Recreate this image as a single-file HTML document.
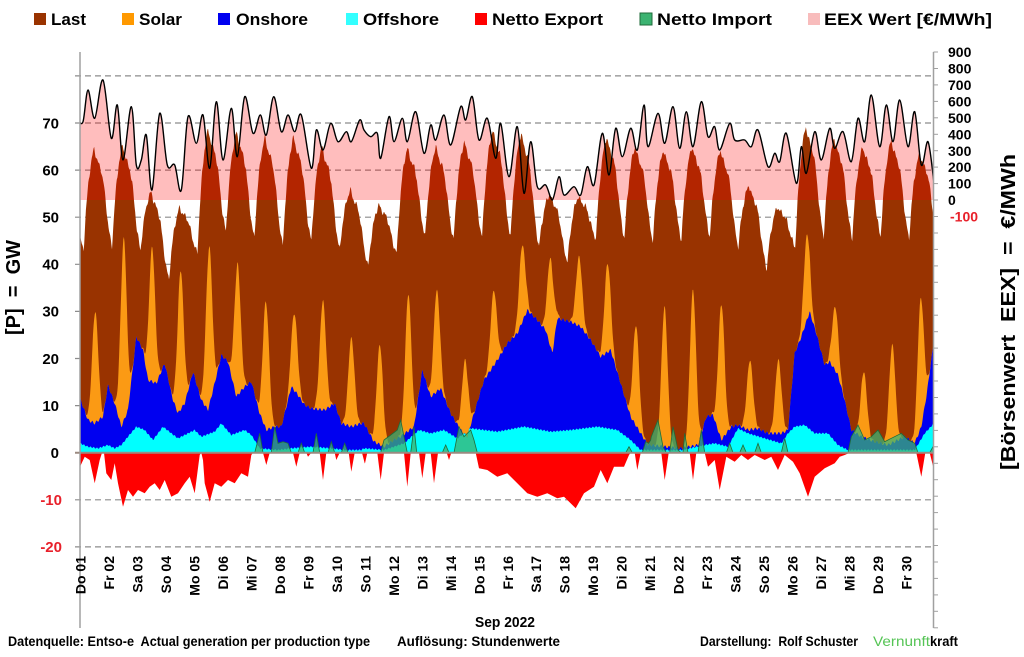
<!DOCTYPE html>
<html>
<head>
<meta charset="utf-8">
<style>
html,body{margin:0;padding:0;background:#fff;overflow:hidden;}
svg{display:block;font-family:"Liberation Sans",Arial,sans-serif;font-weight:bold;}
</style>
</head>
<body>
<svg id="c" width="1024" height="657" viewBox="0 0 1024 657" xmlns="http://www.w3.org/2000/svg">
<defs><clipPath id="pc"><rect x="80" y="40" width="854" height="520"/></clipPath></defs>
<rect width="1024" height="657" fill="#fff"/>

<!-- legend -->
<g font-size="17" fill="#000">
<rect x="34" y="13" width="12" height="12" fill="#993300"/>
<text x="51" y="25" textLength="35" lengthAdjust="spacingAndGlyphs">Last</text>
<rect x="122" y="13" width="12" height="12" fill="#ff9900"/>
<text x="139" y="25" textLength="43" lengthAdjust="spacingAndGlyphs">Solar</text>
<rect x="218" y="13" width="12" height="12" fill="#0000f0"/>
<text x="236" y="25" textLength="72" lengthAdjust="spacingAndGlyphs">Onshore</text>
<rect x="346" y="13" width="12" height="12" fill="#33ffff"/>
<text x="363" y="25" textLength="76" lengthAdjust="spacingAndGlyphs">Offshore</text>
<rect x="475" y="13" width="12" height="12" fill="#ff0000"/>
<text x="492" y="25" textLength="111" lengthAdjust="spacingAndGlyphs">Netto Export</text>
<rect x="640" y="13" width="12" height="12" fill="#3cb371" stroke="#1f6b3a" stroke-width="1"/>
<text x="657" y="25" textLength="115" lengthAdjust="spacingAndGlyphs">Netto Import</text>
<rect x="808" y="13" width="12" height="12" fill="#f8bcbc"/>
<text x="824" y="25" textLength="168" lengthAdjust="spacingAndGlyphs">EEX Wert [€/MWh]</text>
</g>

<!-- gridlines -->
<g stroke="#8c8c8c" stroke-width="1.2" stroke-dasharray="6,4">
<line x1="75" x2="934" y1="75.9" y2="75.9"/>
<line x1="75" x2="934" y1="123" y2="123"/>
<line x1="75" x2="934" y1="170.1" y2="170.1"/>
<line x1="75" x2="934" y1="217.2" y2="217.2"/>
<line x1="75" x2="934" y1="264.3" y2="264.3"/>
<line x1="75" x2="934" y1="311.4" y2="311.4"/>
<line x1="75" x2="934" y1="358.5" y2="358.5"/>
<line x1="75" x2="934" y1="405.6" y2="405.6"/>
<line x1="75" x2="934" y1="499.8" y2="499.8"/>
<line x1="75" x2="934" y1="546.9" y2="546.9"/>
</g>

<g clip-path="url(#pc)">
<path id="load" fill="#993300" d=""/>
<path id="sol" fill="#fb9a14" d=""/>
<path id="wind" fill="#0000f0" d=""/>
<path id="off" fill="#00ffff" d=""/>
<path id="exp" fill="#ff0000" d=""/>
<path id="imp" fill="#3cb371" fill-opacity="0.75" stroke="#1f6b3a" stroke-width="0.8" d=""/>
<path id="pfill" fill="#ff0000" fill-opacity="0.26" d=""/>
<path id="pline" fill="none" stroke="#000" stroke-width="1.4" d=""/>
</g>

<!-- zero line & axes -->
<line x1="75" x2="934" y1="452.7" y2="452.7" stroke="#9b8a80" stroke-width="2"/>
<line x1="80" x2="80" y1="52" y2="628" stroke="#a0a0a0" stroke-width="1.5"/>
<line x1="933.5" x2="933.5" y1="52" y2="628" stroke="#a0a0a0" stroke-width="1.5"/>
<g id="rticks" stroke="#a0a0a0" stroke-width="1"></g>

<!-- left tick labels -->
<g font-size="15" text-anchor="end" fill="#000">
<text x="59" y="128.3">70</text>
<text x="59" y="175.4">60</text>
<text x="59" y="222.5">50</text>
<text x="59" y="269.6">40</text>
<text x="59" y="316.7">30</text>
<text x="59" y="363.8">20</text>
<text x="59" y="410.9">10</text>
<text x="59" y="458">0</text>
<text x="62" y="505.1" fill="#e8202a">-10</text>
<text x="62" y="552.2" fill="#e8202a">-20</text>
</g>

<!-- right tick labels -->
<g font-size="14" fill="#000">
<text x="948" y="57">900</text>
<text x="948" y="73.5">800</text>
<text x="948" y="90">700</text>
<text x="948" y="106.4">600</text>
<text x="948" y="122.9">500</text>
<text x="948" y="139.3">400</text>
<text x="948" y="155.8">300</text>
<text x="948" y="172.2">200</text>
<text x="948" y="188.7">100</text>
<text x="948" y="205.2">0</text>
<text x="950" y="221.6" fill="#e8202a">-100</text>
</g>

<!-- axis titles -->
<text font-size="20" text-anchor="middle" transform="translate(20,287.5) rotate(-90)" textLength="95" lengthAdjust="spacingAndGlyphs" xml:space="preserve">[P]  =  GW</text>
<text font-size="20" text-anchor="middle" transform="translate(1015,312) rotate(-90)" textLength="316" lengthAdjust="spacingAndGlyphs" xml:space="preserve">[Börsenwert  EEX]  =  €/MWh</text>

<!-- x labels -->
<g font-size="14" text-anchor="end" fill="#000">
<text transform="translate(85.7,556) rotate(-90)">Do 01</text>
<text transform="translate(114.2,556) rotate(-90)">Fr 02</text>
<text transform="translate(142.6,556) rotate(-90)">Sa 03</text>
<text transform="translate(171.1,556) rotate(-90)">So 04</text>
<text transform="translate(199.6,556) rotate(-90)">Mo 05</text>
<text transform="translate(228.1,556) rotate(-90)">Di 06</text>
<text transform="translate(256.5,556) rotate(-90)">Mi 07</text>
<text transform="translate(285.0,556) rotate(-90)">Do 08</text>
<text transform="translate(313.5,556) rotate(-90)">Fr 09</text>
<text transform="translate(341.9,556) rotate(-90)">Sa 10</text>
<text transform="translate(370.4,556) rotate(-90)">So 11</text>
<text transform="translate(398.9,556) rotate(-90)">Mo 12</text>
<text transform="translate(427.3,556) rotate(-90)">Di 13</text>
<text transform="translate(455.8,556) rotate(-90)">Mi 14</text>
<text transform="translate(484.3,556) rotate(-90)">Do 15</text>
<text transform="translate(512.8,556) rotate(-90)">Fr 16</text>
<text transform="translate(541.2,556) rotate(-90)">Sa 17</text>
<text transform="translate(569.7,556) rotate(-90)">So 18</text>
<text transform="translate(598.2,556) rotate(-90)">Mo 19</text>
<text transform="translate(626.6,556) rotate(-90)">Di 20</text>
<text transform="translate(655.1,556) rotate(-90)">Mi 21</text>
<text transform="translate(683.6,556) rotate(-90)">Do 22</text>
<text transform="translate(712.0,556) rotate(-90)">Fr 23</text>
<text transform="translate(740.5,556) rotate(-90)">Sa 24</text>
<text transform="translate(769.0,556) rotate(-90)">So 25</text>
<text transform="translate(797.5,556) rotate(-90)">Mo 26</text>
<text transform="translate(825.9,556) rotate(-90)">Di 27</text>
<text transform="translate(854.4,556) rotate(-90)">Mi 28</text>
<text transform="translate(882.9,556) rotate(-90)">Do 29</text>
<text transform="translate(911.3,556) rotate(-90)">Fr 30</text>
</g>

<text x="475" y="627" font-size="15" textLength="60" lengthAdjust="spacingAndGlyphs">Sep 2022</text>

<!-- footer -->
<g font-size="14" fill="#000">
<text x="8" y="646" textLength="362" lengthAdjust="spacingAndGlyphs" xml:space="preserve">Datenquelle: Entso-e  Actual generation per production type</text>
<text x="397" y="646" textLength="163" lengthAdjust="spacingAndGlyphs">Auflösung: Stundenwerte</text>
<text x="700" y="646" textLength="158" lengthAdjust="spacingAndGlyphs" xml:space="preserve">Darstellung:  Rolf Schuster</text>
<text x="873" y="646" textLength="57" lengthAdjust="spacingAndGlyphs" fill="#55c455" font-weight="normal">Vernunft</text>
<text x="930" y="646" textLength="28" lengthAdjust="spacingAndGlyphs">kraft</text>
</g>
</svg>

<script>
(function(){
var Z=452.7,K=4.71;
function gx(t){return 80+t*854/720;}
function gy(v){return Z-v*K;}
function conv(off,arr){return arr.map(function(p){return [off+p[0]/3,(Z-(50+p[1]/3))/K];});}
function convImg(off,arr){return arr.map(function(p){return [off+p[0]/3,50+p[1]/3];});}
function merge(){var a=[];for(var i=0;i<arguments.length;i++)a=a.concat(arguments[i]);a.sort(function(p,q){return p[0]-q[0];});return a;}
function lin(a,x){if(x<=a[0][0])return a[0][1];for(var i=1;i<a.length;i++){if(x<=a[i][0]){var p=a[i-1],q=a[i];var d=q[0]-p[0];var f=d?(x-p[0])/d:0;return p[1]+f*(q[1]-p[1]);}}return a[a.length-1][1];}
function r(v){return Math.round(v*10)/10;}

var w10=[[6,1045],[30,1110],[50,1120],[75,1100],[90,1005],[110,1060],[130,1130],[150,1080],[175,860],[195,900],[210,990],[235,1000],[260,940],[285,1050],[300,1090],[320,1060],[345,965],[370,1050],[390,1080],[410,1000],[430,915],[450,935],[475,1040],[500,1010],[520,995],[545,1090],[565,1140],[590,1130],[610,1130],[640,1010],[660,1035],[680,1065],[700,1075],[740,1080],[770,1060],[790,1120],[820,1130],[850,1120]];
var w11=[[0,1120],[30,1175],[60,1190],[90,1170],[110,1160],[150,1130],[175,960],[200,1040],[230,1015],[260,1090],[290,1140],[310,1160],[330,1090],[360,990],[380,960],[400,930],[430,880],[460,850],[490,780],[520,810],[545,840],[565,910],[580,805],[620,815],[650,830],[680,870],[710,920],[740,900],[770,1000],[800,1100],[830,1150],[860,1185]];
var w12=[[0,1185],[50,1190],[100,1195],[150,1185],[175,1100],[195,1095],[220,1170],[250,1130],[270,1125],[300,1140],[330,1135],[360,1150],[400,1150],[420,1140],[440,910],[460,860],[485,785],[505,850],[530,945],[545,935],[570,975],[590,1050],[610,1140],[640,1160],[680,1175],[720,1185],[770,1160],[800,1180],[820,1130],[835,1040],[858,870]];
var o10=[[6,1180],[30,1190],[60,1195],[90,1185],[110,1195],[130,1185],[150,1160],[175,1130],[200,1140],[225,1170],[255,1130],[280,1150],[300,1165],[330,1150],[350,1140],[370,1160],[410,1145],[430,1120],[460,1155],[500,1140],[520,1155],[545,1195],[600,1200],[640,1195],[700,1190],[760,1195],[800,1200],[850,1200]];
var o11=[[0,1195],[60,1200],[120,1180],[165,1140],[200,1150],[240,1140],[280,1165],[320,1135],[400,1145],[480,1130],[560,1145],[620,1140],[700,1130],[760,1140],[800,1170],[830,1200],[860,1200]];
var o12=[[0,1200],[100,1200],[170,1185],[200,1180],[240,1190],[270,1135],[300,1150],[350,1165],[400,1180],[420,1150],[440,1130],[470,1125],[500,1150],[540,1150],[570,1185],[600,1200],[800,1200],[830,1150],[858,1120]];
var W=merge(conv(78,w10),conv(364,w11),conv(648,w12));
var O=merge(conv(78,o10),conv(364,o11),conv(648,o12));

var OT=[29.9,45.5,43.7,38.8,43.7,40.2,32,29.6,32.4,24.3,22.9,33.8,34.5,19.7,34.5,44.1,41.3,41.6,40.2,27.1,31,34.5,31.4,19.7,19.7,46.2,31,17.2,22.9,32.8];
var T=[43,43.7,43,36.7,42.4,47,45.5,44,45,43,39.5,42.4,45.9,45.2,45.9,45.9,43.7,40.6,45.5,45.5,45,45.2,45.9,43.7,39.1,43.7,45.9,45.5,45.9,45.5];
var P=[64.6,65.3,55.4,52,68.5,68,67,67,65,55.8,52.6,64.7,65,66,68.5,67.8,55,54.4,67,65,64.3,65,64.3,56.8,52.2,69.2,66.7,65,66.3,63.6];

var shape=[[3,0],[5,.38],[7,.65],[9,.84],[11,.96],[12,1]];
var eve=[[14,.9],[16,.83],[18,.77],[20,.64],[22,.42],[24,.2],[26,.05]];
var LP=[[0,45.5]];
for(var d=0;d<30;d++){
  var i;
  for(i=0;i<shape.length;i++)LP.push([24*d+shape[i][0],T[d]+shape[i][1]*(P[d]-T[d])]);
  var Tn=d<29?T[d+1]:46;
  for(i=0;i<eve.length;i++)if(24*d+eve[i][0]<=720)LP.push([24*d+eve[i][0],Tn+eve[i][1]*(P[d]-Tn)]);
}
var S=[];
for(d=0;d<30;d++){S.push(Math.max(2,OT[d]-lin(W,gx(24*d+12.8))));}

var xs=[],yl=[],ys=[],yw=[],yo=[];
for(var t=0;t<=720;t+=0.5){
  var x=gx(t);
  var dd=Math.min(29,Math.floor(t/24)),h=t-24*dd;
  var ld=lin(LP,t)+0.45*Math.sin(t*1.3)+0.3*Math.sin(t*2.7+1);
  var w=Math.max(0,lin(W,x)+0.3*Math.sin(t*1.9+0.5));
  var o=Math.max(0,Math.min(w,lin(O,x)+0.15*Math.sin(t*2.3)));
  var s=(h>4&&h<22)?S[dd]*Math.exp(-0.5*Math.pow((h-12.8)/2.6,2)):0;
  xs.push(r(x));yl.push(r(gy(ld)));ys.push(r(gy(w+s)));yw.push(r(gy(w)));yo.push(r(gy(o)));
}
function area(xa,ya){var s='M'+xa[0]+','+Z;for(var i=0;i<xa.length;i++)s+='L'+xa[i]+','+ya[i];s+='L'+xa[xa.length-1]+','+Z+'Z';return s;}
document.getElementById('load').setAttribute('d',area(xs,yl));
document.getElementById('sol').setAttribute('d',area(xs,ys));
document.getElementById('wind').setAttribute('d',area(xs,yw));
document.getElementById('off').setAttribute('d',area(xs,yo));

function poly(pts){var s='M'+r(pts[0][0])+','+Z;for(var i=0;i<pts.length;i++)s+='L'+r(pts[i][0])+','+r(pts[i][1]);s+='L'+r(pts[pts.length-1][0])+','+Z+'Z';return s;}

var e10=[[0,1240],[6,1250],[20,1220],[35,1230],[50,1300],[65,1230],[72,1208],[78,1208],[85,1270],[100,1290],[110,1240],[120,1300],[135,1370],[150,1320],[165,1340],[180,1320],[200,1330],[215,1310],[230,1300],[245,1320],[260,1290],[280,1340],[300,1330],[320,1300],[335,1280],[350,1330],[365,1215],[370,1208],[375,1230],[380,1300],[395,1355],[410,1300],[430,1310],[450,1290],[470,1300],[490,1270],[510,1280],[520,1215],[525,1208],[555,1208],[565,1245],[575,1208],[645,1208],[655,1250],[665,1208],[685,1208],[690,1220],[700,1208],[725,1208],[735,1290],[745,1208],[770,1208],[775,1230],[785,1208],[812,1208],[820,1265],[830,1208],[852,1208],[860,1240]];
var e11=[[3,1240],[10,1208],[40,1208],[50,1290],[60,1208],[120,1208],[130,1310],[140,1208],[165,1208],[175,1285],[185,1208],[200,1208],[210,1300],[222,1208],[248,1208],[255,1230],[262,1208],[335,1208],[345,1255],[370,1260],[400,1280],[430,1270],[460,1300],[490,1330],[520,1340],[550,1330],[580,1345],[600,1340],[635,1375],[660,1330],[690,1310],[710,1260],[730,1300],[750,1250],[780,1250],[795,1215],[800,1208],[812,1208],[820,1260],[830,1208]];
var e12=[[2,1208],[40,1208],[50,1290],[62,1208],[125,1208],[135,1290],[145,1208],[170,1208],[180,1250],[200,1230],[215,1320],[235,1220],[260,1235],[280,1215],[300,1230],[320,1215],[350,1230],[370,1220],[390,1260],[410,1215],[435,1235],[455,1270],[480,1340],[500,1280],[530,1255],[560,1240],[575,1220],[590,1215],[605,1208],[805,1208],[820,1280],[832,1208],[845,1208],[858,1260],[870,1260]];
var E=merge(convImg(78,e10),convImg(364,e11),convImg(648,e12));
document.getElementById('exp').setAttribute('d',poly(E));

var i10=[[530,1208],[545,1150],[555,1208],[580,1208],[590,1130],[600,1180],[615,1175],[630,1180],[640,1208],[660,1208],[670,1180],[680,1208],[705,1208],[715,1150],[725,1208],[750,1208],[760,1175],[770,1208],[790,1208],[800,1180],[810,1208]];
var i11=[[50,1208],[60,1170],[80,1155],[100,1140],[110,1110],[120,1160],[130,1208],[140,1208],[150,1130],[158,1208],[235,1208],[245,1185],[255,1208],[270,1208],[285,1130],[300,1160],[320,1140],[330,1170],[340,1208],[785,1208],[795,1190],[805,1208],[835,1208],[845,1175],[860,1170]];
var i12=[[2,1180],[10,1160],[30,1110],[45,1190],[55,1208],[65,1208],[75,1130],[90,1200],[100,1208],[105,1208],[110,1150],[120,1208],[150,1208],[160,1140],[170,1208],[235,1208],[245,1180],[255,1208],[275,1208],[285,1185],[295,1208],[320,1208],[330,1180],[340,1208],[400,1208],[410,1165],[420,1208],[600,1208],[610,1160],[630,1125],[650,1170],[670,1160],[690,1140],[710,1175],[730,1165],[760,1150],[780,1170],[800,1180],[810,1208],[845,1208],[855,1190],[870,1190]];
var I=merge(convImg(78,i10),convImg(364,i11),convImg(648,i12));
document.getElementById('imp').setAttribute('d',poly(I));

var p10=[[0,210],[15,215],[30,120],[50,205],[75,90],[100,265],[118,165],[135,330],[160,170],[175,345],[190,330],[205,255],[222,420],[245,190],[268,345],[290,345],[310,420],[330,200],[355,280],[375,195],[395,355],[415,155],[435,330],[460,175],[478,320],[500,140],[525,250],[547,195],[565,255],[587,140],[610,245],[630,195],[650,245],[670,195],[700,355],[715,240],[735,300],[758,220],[780,275],[805,245],[820,275],[845,210]];
var p11=[[0,240],[20,260],[40,250],[50,325],[75,200],[90,275],[115,205],[130,275],[155,185],[180,310],[200,225],[215,270],[240,195],[260,285],[290,170],[305,210],[325,140],[345,270],[370,205],[395,325],[410,220],[435,380],[460,230],[480,430],[500,275],[520,410],[545,405],[565,450],[585,380],[600,435],[630,410],[650,435],[670,350],[690,405],[715,250],[735,375],[755,235],[775,320],[800,235],[820,300],[840,165]];
var p12=[[0,290],[30,190],[50,280],[75,170],[95,295],[115,185],[135,290],[160,155],[180,260],[200,230],[215,300],[245,220],[260,270],[290,270],[310,290],[330,240],[360,350],[380,310],[395,335],[415,250],[445,400],[460,290],[475,370],[500,245],[520,330],[545,235],[560,295],[585,245],[610,335],[630,205],[650,275],[670,135],[695,290],[715,165],[735,275],[755,150],[780,290],[800,185],[820,345],[840,275],[858,400]];
var PP=merge(convImg(78,p10),convImg(364,p11),convImg(648,p12));
PP.forEach(function(p){if(p[1]>200)p[1]=200;});
function curve(pts){
  var s='';
  for(var i=0;i<pts.length-1;i++){
    var p0=pts[i-1]||pts[i],p1=pts[i],p2=pts[i+1],p3=pts[i+2]||p2;
    var c1x=p1[0]+(p2[0]-p0[0])/6,c1y=p1[1]+(p2[1]-p0[1])/6;
    var c2x=p2[0]-(p3[0]-p1[0])/6,c2y=p2[1]-(p3[1]-p1[1])/6;
    c1y=Math.min(c1y,200);c2y=Math.min(c2y,200);
    s+='C'+r(c1x)+','+r(c1y)+' '+r(c2x)+','+r(c2y)+' '+r(p2[0])+','+r(p2[1]);
  }
  return s;
}
var cv=curve(PP);
document.getElementById('pline').setAttribute('d','M'+r(PP[0][0])+','+r(PP[0][1])+cv);
document.getElementById('pfill').setAttribute('d','M'+r(PP[0][0])+',200L'+r(PP[0][0])+','+r(PP[0][1])+cv+'L'+r(PP[PP.length-1][0])+',200Z');

var g=document.getElementById('rticks'),ns='http://www.w3.org/2000/svg';
for(var k=0;k<36;k++){var y=52+16.45*k;if(y>628)break;var l=document.createElementNS(ns,'line');l.setAttribute('x1',933.5);l.setAttribute('x2',938);l.setAttribute('y1',r(y));l.setAttribute('y2',r(y));g.appendChild(l);}
})();
</script>
</body>
</html>
